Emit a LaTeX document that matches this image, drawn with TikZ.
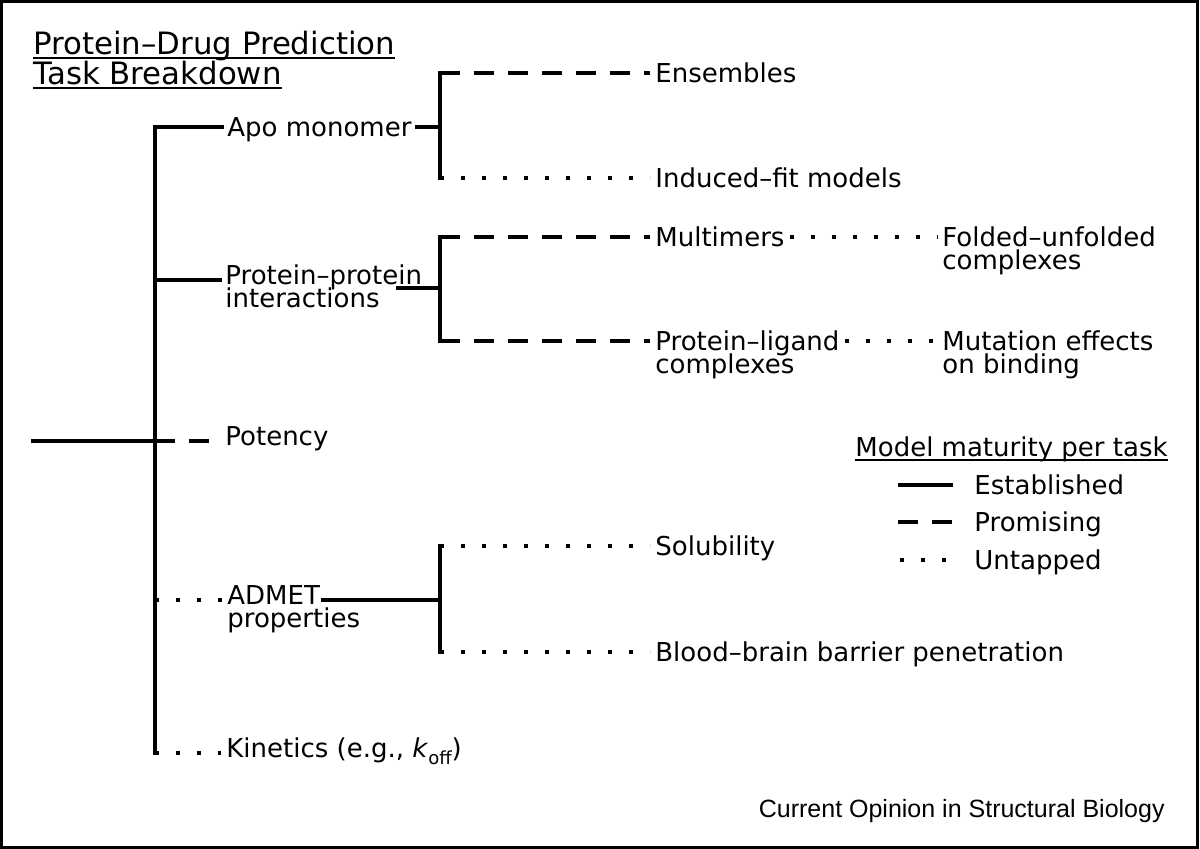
\documentclass[tikz,border=0pt]{standalone}
\usepackage{fontspec}
\setmainfont{DejaVu Sans}
\newfontfamily\creditfont{Liberation Sans}
\newcommand{\lblsize}{\fontsize{13}{15}\selectfont}
\newcommand{\twolines}[2]{\vtop{\baselineskip=11.5pt\lineskiplimit=-100pt\hbox{#1}\hbox{#2}}}
\newcommand{\koff}{\textit{k}\raisebox{-3pt}{\fontsize{9}{9}\selectfont off}}
\begin{document}
\begin{tikzpicture}[x=0.5pt,y=-0.5pt,
  every node/.style={font=\lblsize,inner sep=2.5pt},
  lbl/.style={anchor=west,text height=9.5pt,text depth=0pt},
  lbllow/.style={anchor=west,text height=5pt,text depth=0pt},
  heading/.style={anchor=base west,inner sep=0pt,font=\fontsize{15.4}{15.4}\selectfont},
  solidline/.style={line width=2pt,line cap=rect},
  dashline/.style={line width=2pt,dash pattern=on 10pt off 7pt},
  dotline/.style={line width=2pt,dash pattern=on 2pt off 8.5pt},
  uline/.style={line width=0.75pt}]
 \path[use as bounding box] (0,0) rectangle (1200,849);
 \draw[line width=1.5pt] (1.5,1.5) rectangle (1197,847.5);

 \node[heading] (t1) at (33,55) {Protein--Drug Prediction};
 \node[heading] (t2) at (33,85) {Task Breakdown};
 \draw[uline] ([yshift=-1.5pt]t1.base west) -- ([yshift=-1.5pt]t1.base east)
  ([yshift=-1.5pt]t2.base west) -- ([yshift=-1.5pt]t2.base east);

 \coordinate (root) at (33,441);
 \coordinate (trunk) at (155,753);
 \node[lbl] (apo) at (222,127) {Apo monomer};
 \node[lbllow] (ppi) at (220,280) {\twolines{Protein--protein}{interactions}};
 \node[lbllow] (pot) at (220,441) {Potency};
 \node[lbllow] (adm) at (222,600) {\twolines{ADMET}{properties}};
 \node[lbllow] (kin) at (221,753) {Kinetics (e.g., \koff)};

 \node[lbl] (ens) at (650,73) {Ensembles};
 \node[lbl] (ifm) at (650,178) {Induced--fit models};
 \node[lbl] (mul) at (650,237) {Multimers};
 \node[lbl] (plc) at (650,341) {\twolines{Protein--ligand}{complexes}};
 \node[lbl] (fuc) at (937,237) {\twolines{Folded--unfolded}{complexes}};
 \node[lbl] (mut) at (937,341) {\twolines{Mutation effects}{on binding}};
 \node[lbl] (sol) at (650,546) {Solubility};
 \node[lbl] (bbb) at (650,652) {Blood--brain barrier penetration};

 \coordinate (apoJ) at (440,127);
 \coordinate (ppiR) at (398,288);
 \coordinate (admR) at (323,600);

 \draw[solidline] (root) -- (root -| trunk);
 \draw[solidline] (apo.west) -| (trunk);
 \draw[solidline] (trunk |- ppi.west) -- (ppi.west);
 \draw[dashline] (trunk |- pot.west) -- (pot.west);
 \draw[dotline] (trunk |- adm.west) -- (adm.west);
 \draw[dotline] (trunk) -- (kin.west);

 \draw[solidline] (apo.east) -- (apoJ);
 \draw[solidline] (apoJ |- ens.west) -- (apoJ |- ifm.west);
 \draw[dashline] (apoJ |- ens.west) -- (ens.west);
 \draw[dotline] (apoJ |- ifm.west) -- (ifm.west);

 \draw[solidline] (ppiR) -- (ppiR -| apoJ);
 \draw[solidline] (apoJ |- mul.west) -- (apoJ |- plc.west);
 \draw[dashline] (apoJ |- mul.west) -- (mul.west);
 \draw[dashline] (apoJ |- plc.west) -- (plc.west);
 \draw[dotline] (mul.east) -- (fuc.west);
 \draw[dotline] (plc.east) -- (mut.west);

 \draw[solidline] (admR) -- (admR -| apoJ);
 \draw[solidline] (apoJ |- sol.west) -- (apoJ |- bbb.west);
 \draw[dotline] (apoJ |- sol.west) -- (sol.west);
 \draw[dotline] (apoJ |- bbb.west) -- (bbb.west);

 \node[anchor=base west,inner sep=0pt] (leg) at (855,457) {Model maturity per task};
 \draw[uline] ([yshift=-1.5pt]leg.base west) -- ([yshift=-1.5pt]leg.base east);
 \node[lbl] (est) at (969,485) {Established};
 \node[lbl] (pro) at (969,522) {Promising};
 \node[lbl] (unt) at (969,560) {Untapped};
 \draw[solidline] ([xshift=-34.5pt]est.west) -- ([xshift=-9pt]est.west);
 \draw[dashline] ([xshift=-35.5pt]pro.west) -- ([xshift=-8pt]pro.west);
 \draw[dotline] ([xshift=-34.5pt]unt.west) -- ([xshift=-8pt]unt.west);

 \node[anchor=base east,inner sep=0pt,font=\creditfont\fontsize{12.5}{12.5}\selectfont] (src) at (1165,817) {Current Opinion in Structural Biology};
\end{tikzpicture}
\end{document}
